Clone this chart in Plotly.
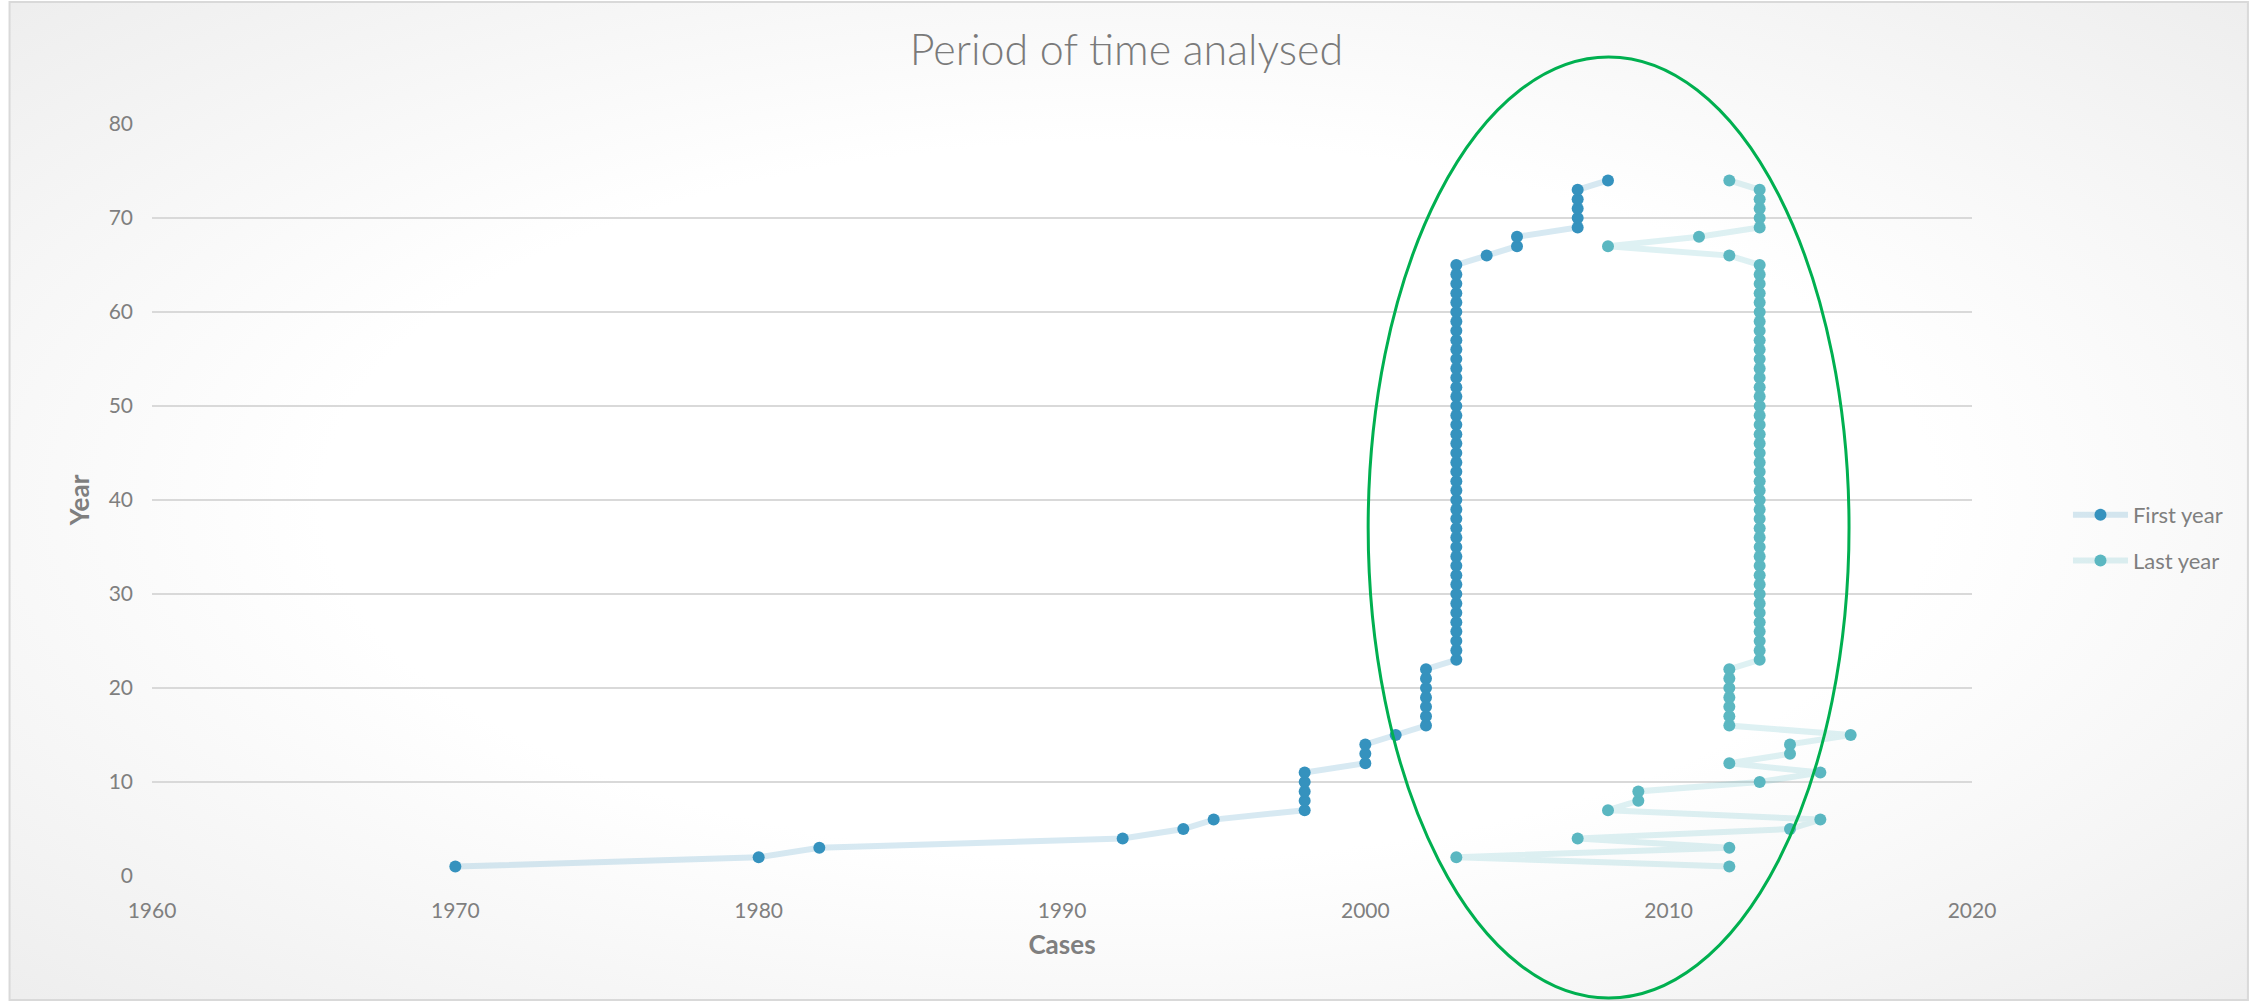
import base64
import plotly.graph_objects as go

# Case numbers (one per analysed case) and the year range each covers
case_no = list(range(1, 75))

first_year = ([1970, 1980, 1982, 1992, 1994, 1995]
              + [1998] * 5
              + [2000] * 3
              + [2001]
              + [2002] * 7
              + [2003] * 43
              + [2004, 2005, 2005]
              + [2007] * 5
              + [2008])

last_year = ([2012, 2003, 2012, 2007, 2014, 2015, 2008, 2009, 2009, 2013,
              2015, 2012, 2014, 2014, 2016]
             + [2012] * 7
             + [2013] * 43
             + [2012, 2008, 2011]
             + [2013] * 5
             + [2012])

x_ticks = [1960, 1970, 1980, 1990, 2000, 2010, 2020]
y_ticks = [0, 10, 20, 30, 40, 50, 60, 70, 80]

W, H = 2262, 1001
L, R, T, B = 151.5, 290, 124, 125
PW, PH = W - L - R, H - T - B


def px_x(p):
    return (p - L) / PW


def px_y(p):
    return (H - B - p) / PH


FONT = "Lato"
GREY = "#7f7f7f"

fig = go.Figure()
fig.add_trace(go.Scatter(
    x=first_year, y=case_no, name="First year", mode="lines+markers",
    line=dict(color="rgba(53,146,190,0.2)", width=6),
    marker=dict(color="#3592be", size=12),
    legendgroup="a",
))
fig.add_trace(go.Scatter(
    x=last_year, y=case_no, name="Last year", mode="lines+markers",
    line=dict(color="rgba(91,183,193,0.2)", width=6),
    marker=dict(color="#5bb7c1", size=12),
    legendgroup="b",
))

# soft radial background behind the whole chart
svg = ("<svg xmlns='http://www.w3.org/2000/svg' width='2240' height='1000' "
       "preserveAspectRatio='none'>"
       "<defs><radialGradient id='g' cx='50%' cy='50%' r='72%'>"
       "<stop offset='0' stop-color='#ffffff'/>"
       "<stop offset='0.5' stop-color='#ffffff'/>"
       "<stop offset='1' stop-color='#ededed'/>"
       "</radialGradient></defs>"
       "<rect width='100%' height='100%' fill='url(#g)'/></svg>")
bg_src = "data:image/svg+xml;base64," + base64.b64encode(svg.encode()).decode()

fig.update_layout(
    width=W, height=H,
    margin=dict(l=L, r=R, t=T, b=B, autoexpand=False),
    paper_bgcolor="white",
    plot_bgcolor="rgba(0,0,0,0)",
    font=dict(family=FONT, color=GREY),
    title=dict(text="Period of time analysed", x=0.498, xref="container",
               xanchor="center", y=1 - 50 / H, yanchor="middle",
               font=dict(family=FONT, size=43, color="#7a7a7a", weight=300)),
    xaxis=dict(range=[1960, 2020], tickvals=x_ticks, showgrid=False,
               zeroline=False, showline=False, ticks="",
               ticklabelstandoff=20,
               tickfont=dict(size=21, color=GREY),
               title=dict(text="<b>Cases</b>", standoff=14,
                          font=dict(size=26, color=GREY))),
    yaxis=dict(range=[0, 80], tickvals=y_ticks, showgrid=True,
               gridcolor="#d9d9d9", gridwidth=2, zeroline=False,
               showline=False, ticks="", ticklabelstandoff=18,
               tickfont=dict(size=21, color=GREY),
               title=dict(text="<b>Year</b>", standoff=11,
                          font=dict(size=26, color=GREY))),
    legend=dict(x=px_x(2068), xanchor="left", y=px_y(538), yanchor="middle",
                font=dict(size=22, color=GREY), bgcolor="rgba(0,0,0,0)",
                tracegroupgap=14, traceorder="grouped", itemwidth=55),
    images=[dict(source=bg_src, xref="paper", yref="paper",
                 x=px_x(9), y=px_y(2), sizex=(2248 - 9) / PW,
                 sizey=(1000 - 2) / PH, xanchor="left", yanchor="top",
                 sizing="stretch", layer="below")],
    shapes=[
        # chart border
        dict(type="rect", xref="paper", yref="paper",
             x0=px_x(9), x1=px_x(2248), y0=px_y(1000), y1=px_y(2),
             line=dict(color="#d9d9d9", width=2), layer="below"),
        # highlight around the recent cases
        dict(type="circle", xref="paper", yref="paper",
             x0=px_x(1368), x1=px_x(1849), y0=px_y(998), y1=px_y(57),
             line=dict(color="#00b050", width=3)),
    ],
)

fig.write_html("out.html")
